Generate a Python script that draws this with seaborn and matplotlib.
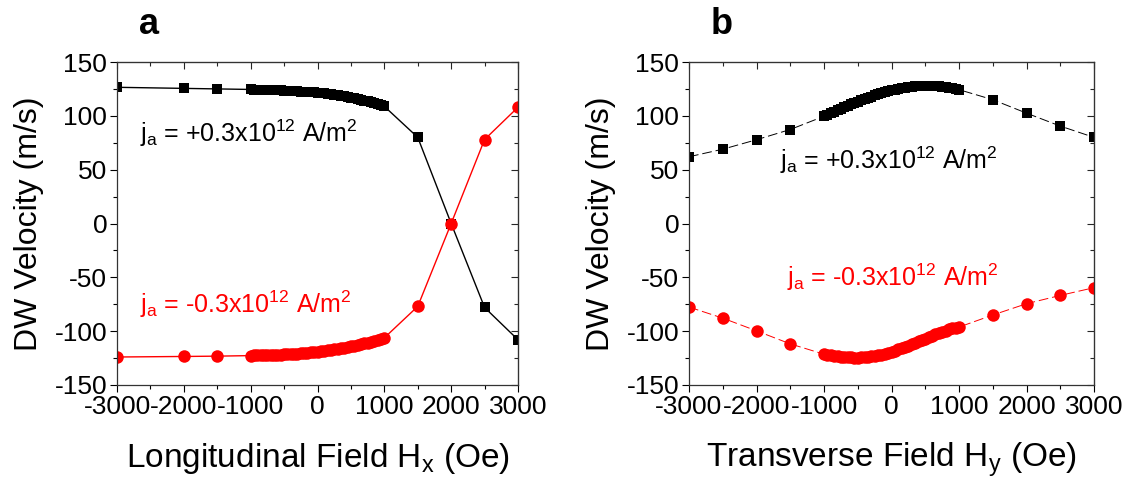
import matplotlib
matplotlib.use("Agg")
import matplotlib.pyplot as plt
import pandas as pd
import seaborn as sns
from matplotlib.ticker import MultipleLocator

# field values (Oe): coarse points outside +-1000, 50 Oe steps inside
outer_lo = [-3000, -2000, -1500]
outer_hi = [1500, 2000, 2500, 3000]
dense = list(range(-1000, 1001, 50))
hx = outer_lo + dense + outer_hi

hy_lo = [-3000, -2500, -2000, -1500]
hy_hi = [1500, 2000, 2500, 3000]
hy = hy_lo + dense + hy_hi

# panel a: longitudinal field
vx_pos = [126.5, 125.5, 125.0,
          124.5, 124.4, 124.3, 124.2, 124.1, 124.0, 123.9, 123.8, 123.7, 123.6,
          123.5, 123.3, 123.2, 123.0, 122.8, 122.6, 122.4, 122.2, 122.0, 121.7,
          121.4, 121.1, 120.8, 120.4, 120.0, 119.6, 119.2, 118.7, 118.2, 117.6,
          117.0, 116.4, 115.7, 115.0, 114.2, 113.4, 112.6, 111.7, 110.8, 109.8,
          108.8,
          80.0, 0.0, -78.0, -108.0]
vx_neg = [-124.0, -123.5, -123.2,
          -122.7, -122.6, -122.5, -122.4, -122.3, -122.2, -122.1, -122.0, -121.9, -121.8,
          -121.6, -121.4, -121.2, -121.0, -120.8, -120.6, -120.3, -120.0, -119.7, -119.4,
          -119.0, -118.7, -118.3, -117.9, -117.5, -117.0, -116.5, -116.0, -115.4, -114.8,
          -114.2, -113.6, -112.9, -112.2, -111.4, -110.6, -109.7, -108.8, -107.9, -107.0,
          -106.2,
          -77.0, 0.0, 78.0, 108.0]

# panel b: transverse field
vy_pos = [62.0, 69.0, 77.8, 87.3,
          99.6, 101.0, 102.4, 103.8, 105.2, 106.6, 108.0, 109.4, 110.7, 112.0,
          113.3, 114.5, 115.7, 116.8, 117.9, 119.0, 120.0, 121.0, 121.9, 122.8,
          123.6, 124.3, 125.0, 125.6, 126.2, 126.7, 127.1, 127.5, 127.8, 128.0,
          128.1, 128.1, 128.0, 127.8, 127.5, 127.1, 126.6, 126.1, 125.5, 124.9,
          124.3,
          115.0, 102.5, 90.5, 80.0]
vy_neg = [-77.6, -87.9, -99.7, -111.8,
          -121.4, -122.0, -122.6, -123.1, -123.5, -123.8, -124.1, -124.3, -124.4,
          -124.5, -124.5, -124.4, -124.2, -123.9, -123.5, -123.0, -122.4, -121.7,
          -120.9, -120.0, -119.0, -118.0, -116.9, -115.8, -114.6, -113.4, -112.1,
          -110.8, -109.5, -108.2, -106.9, -105.6, -104.3, -103.0, -101.8, -100.6,
          -99.5, -98.4, -97.4, -96.7, -96.2,
          -85.0, -74.5, -66.8, -59.6]

label_pos = r"j$_{\rm a}$ = +0.3x10$^{12}$ A/m$^2$"
label_neg = r"j$_{\rm a}$ = -0.3x10$^{12}$ A/m$^2$"

sns.set_style("ticks")
plt.rcParams["font.family"] = ["Liberation Sans", "DejaVu Sans"]
plt.rcParams["mathtext.fontset"] = "custom"
plt.rcParams["mathtext.rm"] = "Liberation Sans"
plt.rcParams["mathtext.it"] = "Liberation Sans:italic"
plt.rcParams["axes.unicode_minus"] = False
plt.rcParams["text.color"] = "black"
plt.rcParams["axes.labelcolor"] = "black"

fig = plt.figure(figsize=(11.28, 4.79), dpi=100)
ax_a = fig.add_axes([117 / 1128, 1 - 385 / 479, 401 / 1128, 323 / 479])
ax_b = fig.add_axes([689 / 1128, 1 - 385 / 479, 405 / 1128, 323 / 479])

df_a = pd.DataFrame({"H": hx, "pos": vx_pos, "neg": vx_neg})
df_b = pd.DataFrame({"H": hy, "pos": vy_pos, "neg": vy_neg})

sns.lineplot(data=df_a, x="H", y="pos", ax=ax_a, color="black", marker="s",
             markersize=7.5, markeredgewidth=0, linewidth=1.0, sort=False)
sns.lineplot(data=df_a, x="H", y="neg", ax=ax_a, color="red", marker="o",
             markersize=9, markeredgewidth=0, linewidth=1.0, sort=False)
sns.lineplot(data=df_b, x="H", y="pos", ax=ax_b, color="black", marker="s",
             markersize=7.5, markeredgewidth=0, linewidth=0.7,
             linestyle=(0, (10, 4)), sort=False)
sns.lineplot(data=df_b, x="H", y="neg", ax=ax_b, color="red", marker="o",
             markersize=9, markeredgewidth=0, linewidth=0.7,
             linestyle=(0, (10, 4)), sort=False)

ax_a.text(-2650, 84, label_pos, fontsize=18, color="black", va="center")
ax_a.text(-2650, -75, label_neg, fontsize=18, color="red", va="center")
ax_b.text(-1650, 59, label_pos, fontsize=18, color="black", va="center")
ax_b.text(-1550, -50, label_neg, fontsize=18, color="red", va="center")

for ax, xlab, tag in [(ax_a, r"Longitudinal Field H$_{\rm x}$ (Oe)", "a"),
                      (ax_b, r"Transverse Field H$_{\rm y}$ (Oe)", "b")]:
    ax.set_xlim(-3000, 3000)
    ax.set_ylim(-150, 150)
    ax.xaxis.set_major_locator(MultipleLocator(1000))
    ax.xaxis.set_minor_locator(MultipleLocator(500))
    ax.yaxis.set_major_locator(MultipleLocator(50))
    ax.yaxis.set_minor_locator(MultipleLocator(25))
    ax.tick_params(which="both", direction="out", labelsize=19, width=0.8,
                   colors="black", pad=2)
    ax.tick_params(which="major", length=5)
    ax.tick_params(which="minor", length=3)
    for s in ax.spines.values():
        s.set_visible(True)
        s.set_linewidth(0.9)
        s.set_color("#333333")
    top = ax.secondary_xaxis("top")
    top.xaxis.set_major_locator(MultipleLocator(1000))
    top.xaxis.set_minor_locator(MultipleLocator(500))
    top.tick_params(which="both", direction="in", labeltop=False, width=0.8)
    top.tick_params(which="major", length=5)
    top.tick_params(which="minor", length=3)
    right = ax.secondary_yaxis("right")
    right.yaxis.set_major_locator(MultipleLocator(50))
    right.yaxis.set_minor_locator(MultipleLocator(25))
    right.tick_params(which="both", direction="in", labelright=False, width=0.8)
    right.tick_params(which="major", length=5)
    right.tick_params(which="minor", length=3)
    ax.set_xlabel(xlab, fontsize=24, labelpad=16)
    ax.set_ylabel("DW Velocity (m/s)", fontsize=23, labelpad=8)
    ax.text(0.08, 1.115, tag, transform=ax.transAxes, fontsize=26,
            fontweight="bold", ha="center", va="center")

fig.savefig("out.png", dpi=100)
